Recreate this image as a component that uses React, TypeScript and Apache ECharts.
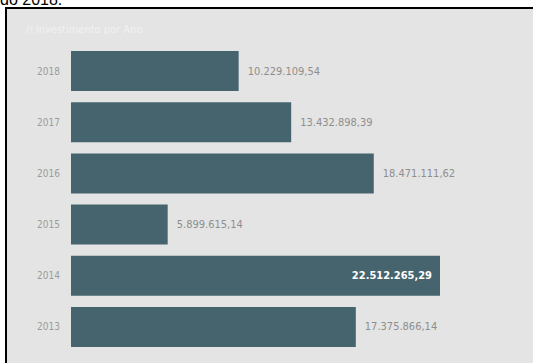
import React, { useEffect, useRef } from "react";
import * as echarts from "echarts";

const years = ["2018", "2017", "2016", "2015", "2014", "2013"];
const values = [10229109.54, 13432898.39, 18471111.62, 5899615.14, 22512265.29, 17375866.14];
const chartTitle = "// Investimento por Ano";
const headerText = "do 2018.";

const fmt = (v: number): string => {
  const fixed = v.toFixed(2);
  const [intPart, dec] = fixed.split(".");
  const withDots = intPart.replace(/\B(?=(\d{3})+(?!\d))/g, ".");
  return withDots + "," + dec;
};

const NARROW = '"Liberation Sans Narrow", "DejaVu Sans Condensed", "Roboto", sans-serif';

export default function App() {
  const ref = useRef<HTMLDivElement>(null);
  useEffect(() => {
    if (!ref.current) return;
    const chart = echarts.init(ref.current, undefined, { renderer: "svg" });
    const maxVal = Math.max(...values);
    const data = values.map((v) =>
      v === maxVal
        ? {
            value: v,
            label: { position: "insideRight", color: "#ffffff", distance: 8, fontWeight: "bold" },
          }
        : { value: v }
    );
    chart.setOption({
      animation: false,
      backgroundColor: "#ffffff",
      graphic: [
        {
          type: "rect",
          shape: { x: 5, y: 7, width: 528, height: 356 },
          style: { fill: "#000000" },
          z: -10,
          silent: true,
        },
        {
          type: "rect",
          shape: { x: 7, y: 9, width: 526, height: 354 },
          style: { fill: "#e4e4e4" },
          z: -9,
          silent: true,
        },
        {
          type: "text",
          x: 0,
          y: 7,
          style: {
            text: headerText,
            fill: "#000000",
            font: '16px "Liberation Sans", Arial, sans-serif',
            verticalAlign: "bottom",
            align: "left",
          },
          silent: true,
        },
        {
          type: "text",
          x: 26,
          y: 29,
          style: {
            text: chartTitle,
            fill: "#f1f1f1",
            font: '11px ' + NARROW,
            verticalAlign: "middle",
            align: "left",
          },
          silent: true,
        },
      ],
      grid: { left: 71, right: 93, top: 45.5, bottom: 10.5, containLabel: false },
      xAxis: {
        type: "value",
        min: 0,
        max: maxVal,
        show: false,
      },
      yAxis: {
        type: "category",
        data: years,
        inverse: true,
        axisLine: { show: false },
        axisTick: { show: false },
        splitLine: { show: false },
        axisLabel: {
          color: "#9c9c9c",
          fontSize: 10,
          margin: 11,
          fontFamily: NARROW,
        },
      },
      series: [
        {
          type: "bar",
          data,
          barWidth: 40,
          itemStyle: { color: "#46646e" },
          label: {
            show: true,
            position: "right",
            distance: 9,
            color: "#8e8e8e",
            fontSize: 11,
            fontFamily: NARROW,
            formatter: (p: any) => fmt(p.value),
          },
        },
      ],
    });
    return () => chart.dispose();
  }, []);
  return (
    <div
      ref={ref}
      style={{ position: "fixed", left: 0, top: 0, width: 533, height: 363 }}
    />
  );
}
